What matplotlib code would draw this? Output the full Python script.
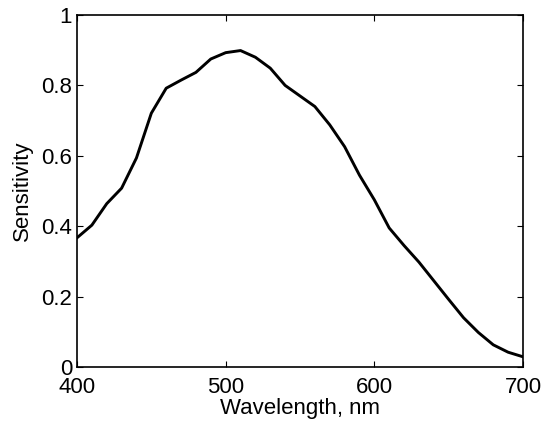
import matplotlib
matplotlib.use("Agg")
import matplotlib.pyplot as plt

wavelength = [400, 410, 420, 430, 440, 450, 460, 470, 480, 490, 500,
              510, 520, 530, 540, 550, 560, 570, 580, 590, 600,
              610, 620, 630, 640, 650, 660, 670, 680, 690, 700]
sensitivity = [0.367, 0.403, 0.464, 0.508, 0.594, 0.721, 0.792, 0.815, 0.837, 0.875, 0.893,
               0.899, 0.880, 0.849, 0.800, 0.770, 0.740, 0.688, 0.626, 0.545, 0.475,
               0.395, 0.345, 0.298, 0.245, 0.192, 0.140, 0.098, 0.063, 0.042, 0.029]
xticks = [400, 500, 600, 700]
yticks = [0, 0.2, 0.4, 0.6, 0.8, 1]
ytick_labels = ['0', '0.2', '0.4', '0.6', '0.8', '1']

plt.rcParams['font.family'] = ['Liberation Sans', 'DejaVu Sans']

fig = plt.figure(figsize=(5.44, 4.21), dpi=100)
ax = fig.add_axes([77/544, 54/421, 446/544, 352/421])
ax.plot(wavelength, sensitivity, color='black', linewidth=2.1)
ax.set_xlim(400, 700)
ax.set_ylim(0, 1)
ax.set_xticks(xticks)
ax.set_yticks(yticks)
ax.set_yticklabels(ytick_labels)
for s in ax.spines.values():
    s.set_linewidth(1.2)
ax.tick_params(direction='in', length=4, width=0.8, top=True, right=True, labelsize=16)
ax.tick_params(axis='x', pad=7)
ax.tick_params(axis='y', pad=3.5)
ax.set_xlabel('Wavelength, nm', fontsize=16)
ax.set_ylabel('Sensitivity', fontsize=16)
ax.xaxis.set_label_coords(0.5, -0.089)
ax.yaxis.set_label_coords(-0.099, 0.5)
fig.savefig('out.png', dpi=100)
